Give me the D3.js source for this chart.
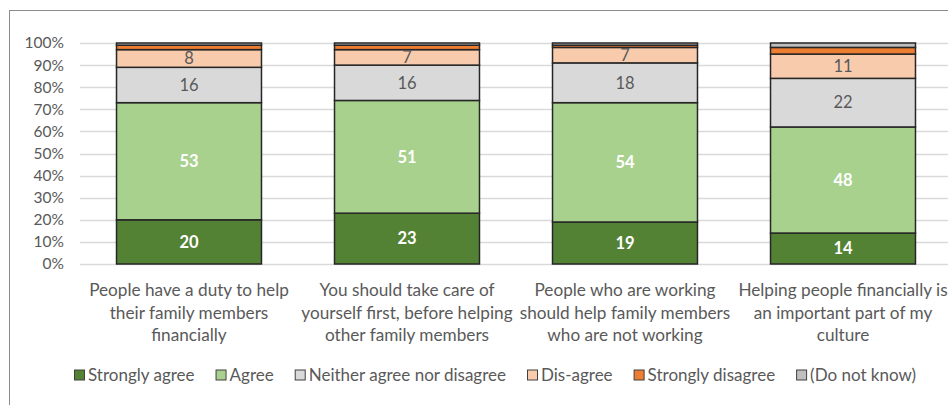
<!DOCTYPE html>
<html>
<head>
<meta charset="utf-8">
<script src="https://cdn.jsdelivr.net/npm/d3@7"></script>
<style>
  body { margin: 0; background: #fff; }
  svg { display: block; font-family: Lato, "Open Sans", sans-serif; }
</style>
</head>
<body>
<svg id="chart" width="948" height="405"></svg>
<script>
// categories (x axis), line breaks as in the picture
var categories = [
  "People have a duty to help\ntheir family members\nfinancially",
  "You should take care of\nyourself first, before helping\nother family members",
  "People who are working\nshould help family members\nwho are not working",
  "Helping people financially is\nan important part of my\nculture"
];

var seriesNames = ["Strongly agree", "Agree", "Neither agree nor disagree", "Dis-agree", "Strongly disagree", "(Do not know)"];
var seriesColors = ["#548235", "#a9d18e", "#d9d9d9", "#f8cbad", "#ed7d31", "#bfbfbf"];

// percent values per series, one per category
var stronglyAgree    = [20, 23, 19, 14];
var agree            = [53, 51, 54, 48];
var neither          = [16, 16, 18, 22];
var disagree         = [8, 7, 7, 11];
var stronglyDisagree = [2, 2, 1, 3];
var doNotKnow        = [1, 1, 1, 2];

var yTicks = [0, 10, 20, 30, 40, 50, 60, 70, 80, 90, 100];

var svg = d3.select("#chart");

var series = [stronglyAgree, agree, neither, disagree, stronglyDisagree, doNotKnow];
var rows = categories.map(function(c, i) {
  var r = { cat: c };
  seriesNames.forEach(function(s, j) { r[s] = series[j][i]; });
  return r;
});
var stacked = d3.stack().keys(seriesNames)(rows);

var x = d3.scaleBand()
  .domain(categories)
  .range([80, 952])
  .paddingInner(0.335)
  .paddingOuter(0.1675);

var y = d3.scaleLinear()
  .domain([0, 100])
  .range([264, 43]);

// frame
svg.append("rect")
  .attr("x", 9.5).attr("y", 10.5)
  .attr("width", 960).attr("height", 420)
  .attr("fill", "none")
  .attr("stroke", "#8c8c8c")
  .attr("stroke-width", 1);

// gridlines
svg.append("g")
  .selectAll("line")
  .data(yTicks)
  .enter().append("line")
    .attr("x1", 80).attr("x2", 952)
    .attr("y1", function(d) { return Math.round(y(d)) + 0.5; })
    .attr("y2", function(d) { return Math.round(y(d)) + 0.5; })
    .attr("stroke", "#d9d9d9")
    .attr("stroke-width", 1.3);

// y axis labels
var yAxis = svg.append("g")
  .attr("transform", "translate(72,0)")
  .call(d3.axisLeft(y).tickValues(yTicks).tickSize(0).tickPadding(8)
    .tickFormat(function(d) { return d + "%"; }));
yAxis.select(".domain").remove();
yAxis.selectAll("text")
  .attr("fill", "#595959")
  .style("font-family", "Lato, sans-serif")
  .style("font-size", "15.5px");

// bars
var layers = svg.append("g")
  .selectAll("g")
  .data(stacked)
  .enter().append("g")
    .attr("fill", function(d, i) { return seriesColors[i]; });

layers.selectAll("rect")
  .data(function(d) { return d; })
  .enter().append("rect")
    .attr("x", function(d) { return x(d.data.cat); })
    .attr("y", function(d) { return y(d[1]); })
    .attr("width", x.bandwidth())
    .attr("height", function(d) { return y(d[0]) - y(d[1]); })
    .attr("stroke", "#262626")
    .attr("stroke-width", 1.5);

// value labels for the first four series
var labelColors = ["#ffffff", "#ffffff", "#595959", "#595959"];
stacked.slice(0, 4).forEach(function(layer, i) {
  svg.append("g")
    .selectAll("text")
    .data(layer)
    .enter().append("text")
      .attr("x", function(d) { return x(d.data.cat) + x.bandwidth() / 2; })
      .attr("y", function(d) { return y((d[0] + d[1]) / 2); })
      .attr("dy", "0.35em")
      .attr("text-anchor", "middle")
      .attr("fill", labelColors[i])
      .style("font-size", "16.5px")
      .style("font-weight", i < 2 ? "bold" : "normal")
      .text(function(d) { return d[1] - d[0]; });
});

// category labels
var catLabels = svg.append("g")
  .selectAll("text")
  .data(categories)
  .enter().append("text")
    .attr("x", function(d) { return x(d) + x.bandwidth() / 2; })
    .attr("y", 290)
    .attr("text-anchor", "middle")
    .attr("fill", "#595959")
    .style("font-size", "17.2px");

catLabels.selectAll("tspan")
  .data(function(d) { return d.split("\n"); })
  .enter().append("tspan")
    .attr("x", function() { return d3.select(this.parentNode).attr("x"); })
    .attr("dy", function(d, i) { return i === 0 ? "0.35em" : "22.5px"; })
    .text(function(d) { return d; });

// legend
var legend = svg.append("g").attr("transform", "translate(0,375)");
var lx = 74;
seriesNames.forEach(function(name, i) {
  var item = legend.append("g").attr("transform", "translate(" + lx + ",0)");
  item.append("rect")
    .attr("x", 0.5).attr("y", -5)
    .attr("width", 10).attr("height", 10)
    .attr("fill", seriesColors[i])
    .attr("stroke", "#404040")
    .attr("stroke-width", 1);
  var t = item.append("text")
    .attr("x", 14)
    .attr("dy", "0.35em")
    .attr("fill", "#595959")
    .style("font-size", "17px")
    .text(name);
  lx += 14 + t.node().getComputedTextLength() + 21;
});
</script>
</body>
</html>
